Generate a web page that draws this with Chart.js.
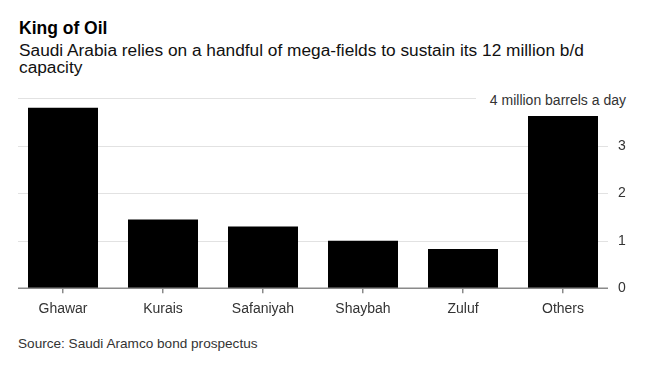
<!DOCTYPE html>
<html>
<head>
<meta charset="utf-8">
<script src="https://cdn.jsdelivr.net/npm/chart.js@4.4.0/dist/chart.umd.min.js"></script>
<style>
  html, body { margin: 0; padding: 0; background: #fff; }
  body { width: 654px; height: 371px; position: relative; overflow: hidden; font-family: "Liberation Sans", Arial, sans-serif; }
  .title { position: absolute; left: 19px; top: 18px; font-size: 17.5px; line-height: 20px; font-weight: bold; color: #000; }
  .subtitle { position: absolute; left: 19px; top: 41.5px; font-size: 17.3px; line-height: 17px; color: #111; }
  .unit { position: absolute; right: 28px; top: 91px; font-size: 14px; line-height: 16px; color: #333; white-space: nowrap; }
  .source { position: absolute; left: 18px; top: 336px; font-size: 13.6px; line-height: 16px; color: #333; }
  #wrap { position: absolute; left: 0; top: 85px; width: 654px; height: 240px; }
</style>
</head>
<body>
<div class="title">King of Oil</div>
<div class="subtitle">Saudi Arabia relies on a handful of mega-fields to sustain its 12 million b/d<br>capacity</div>
<div class="unit" id="unit">4 million barrels a day</div>
<div id="wrap"><canvas id="chart"></canvas></div>
<div class="source">Source: Saudi Aramco bond prospectus</div>
<script>
// million barrels a day
const fields = ["Ghawar", "Kurais", "Safaniyah", "Shaybah", "Zuluf", "Others"];
const capacity = [3.8, 1.45, 1.3, 1.0, 0.83, 3.63];
const yTicks = [0, 1, 2, 3, 4];

Chart.defaults.font.family = '"Liberation Sans", Arial, sans-serif';

// light gridlines under the bars, darker baseline on top
const gridPlugin = {
  id: 'gridPlugin',
  beforeDatasetsDraw(chart) {
    const ctx = chart.ctx;
    const y = chart.scales.y;
    const area = chart.chartArea;
    ctx.save();
    ctx.strokeStyle = '#e2e2e2';
    ctx.lineWidth = 1;
    yTicks.forEach(function(v) {
      if (v === 0) return;
      const py = Math.round(y.getPixelForValue(v)) + 0.5;
      const right = v === 4 ? 476 : area.right - 5;
      ctx.beginPath();
      ctx.moveTo(area.left + 5, py);
      ctx.lineTo(right, py);
      ctx.stroke();
    });
    ctx.restore();
  },
  afterDatasetsDraw(chart) {
    const ctx = chart.ctx;
    const y = chart.scales.y;
    const area = chart.chartArea;
    const py = y.getPixelForValue(0);
    ctx.save();
    ctx.strokeStyle = '#8a8a8a';
    ctx.lineWidth = 1.5;
    ctx.beginPath();
    ctx.moveTo(area.left + 5, py);
    ctx.lineTo(area.right - 5, py);
    ctx.stroke();
    ctx.restore();
    const unit = document.getElementById('unit');
    unit.style.top = (85 + y.getPixelForValue(4) - 6.8) + 'px';
  }
};

const ctx = document.getElementById('chart').getContext('2d');
new Chart(ctx, {
  type: 'bar',
  data: {
    labels: fields,
    datasets: [{
      data: capacity,
      backgroundColor: '#000',
      borderWidth: 0,
      categoryPercentage: 1,
      barPercentage: 0.7
    }]
  },
  options: {
    responsive: true,
    maintainAspectRatio: false,
    animation: false,
    layout: { padding: { top: 13.33, left: 13, right: 0, bottom: 0 } },
    plugins: {
      legend: { display: false },
      tooltip: { enabled: false }
    },
    scales: {
      x: {
        grid: {
          display: true,
          drawOnChartArea: false,
          drawTicks: true,
          tickLength: 5,
          offset: false,
          color: '#8a8a8a',
          lineWidth: 1.5
        },
        border: { display: false },
        ticks: {
          color: '#333',
          font: { size: 14 },
          padding: 7,
          maxRotation: 0,
          autoSkip: false
        },
        afterFit(scale) { scale.height = 36.67; }
      },
      y: {
        position: 'right',
        min: 0,
        max: 4,
        grid: { display: false },
        border: { display: false },
        ticks: {
          stepSize: 1,
          color: '#333',
          font: { size: 14 },
          padding: -3,
          callback: function(v) { return v === 4 ? '' : v; }
        },
        afterFit(scale) { scale.width = 41; }
      }
    }
  },
  plugins: [gridPlugin]
});
</script>
</body>
</html>
